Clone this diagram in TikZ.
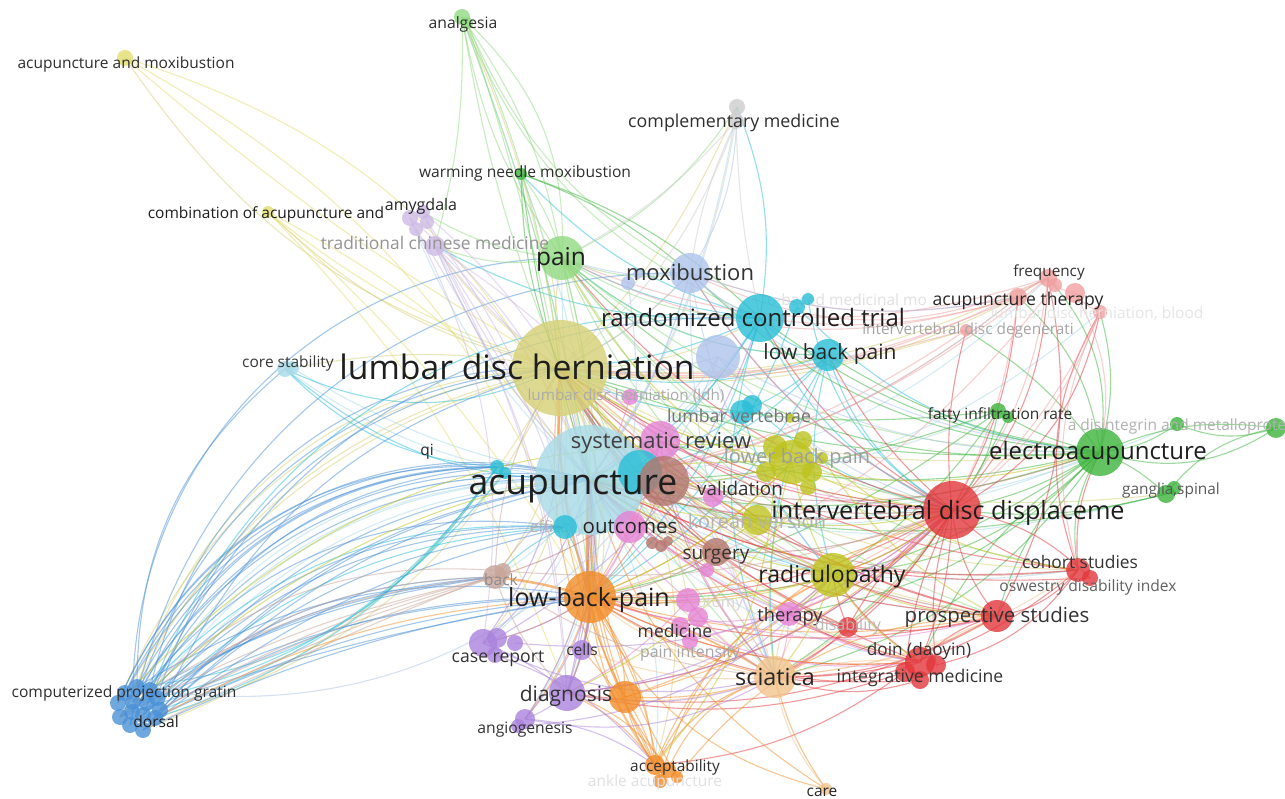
\documentclass[tikz,border=0pt]{standalone}
\usepackage{fontspec}
\setmainfont{Open Sans}
\pgfdeclarelayer{bg}
\pgfdeclarelayer{edges}
\pgfdeclarelayer{lowlab}
\pgfsetlayers{bg,edges,lowlab,main}
\definecolor{cKhaki}{RGB}{214,208,118}
\definecolor{cYellow}{RGB}{226,222,110}
\definecolor{cLCyan}{RGB}{168,218,232}
\definecolor{cCyan}{RGB}{40,190,215}
\definecolor{cBrown}{RGB}{180,118,108}
\definecolor{cLBrown}{RGB}{200,165,155}
\definecolor{cPink}{RGB}{228,130,212}
\definecolor{cOlive}{RGB}{190,195,30}
\definecolor{cRed}{RGB}{226,55,60}
\definecolor{cGreen}{RGB}{60,180,60}
\definecolor{cOrange}{RGB}{242,140,40}
\definecolor{cLOrange}{RGB}{240,195,140}
\definecolor{cPurple}{RGB}{170,130,220}
\definecolor{cLBlue}{RGB}{175,195,235}
\definecolor{cLGreen}{RGB}{145,218,130}
\definecolor{cGrey}{RGB}{205,205,205}
\definecolor{cLRed}{RGB}{240,160,160}
\definecolor{cLPurple}{RGB}{205,185,228}
\definecolor{cBlue}{RGB}{75,145,215}
\definecolor{tDark}{RGB}{30,30,30}
\tikzset{
  bub/.style={circle,inner sep=0pt,draw=none,fill opacity=0.8},
  lab/.style={inner sep=0pt,anchor=base},
  ed/.style={line width=1.1pt,draw opacity=0.5},
}
\newcommand\bub[5]{\node[bub,minimum size=#4*2pt,fill=#5] (#1) at (#2,#3) {};}
\newcommand\lab[6]{\node[lab,text=#5,font=\fontsize{#4}{#4}\selectfont] (#1) at ({#2},{#3+0.36*#4}) {#6};}
\newcommand\edges[2]{\foreach \pa/\pb/\pc in {#2} {\draw[ed,draw=#1] (\pa.center) to[bend left=\pc] (\pb.center);}}
\begin{document}
\begin{tikzpicture}[x=1pt,y=-1pt]
\useasboundingbox (0,0) rectangle (1285,799);
\begin{pgfonlayer}{bg}
\fill[white] (0,0) rectangle (1285,799);
\end{pgfonlayer}
% ---------------- bubbles ----------------
\bub{ldh}{560}{368}{48}{cKhaki}
\bub{lbl}{718}{357}{22}{cLBlue}
\bub{acu}{590}{480}{55}{cLCyan}
\bub{sr}{660}{441}{20}{cPink}
\bub{cyn2}{640}{472}{22}{cCyan}
\bub{brn}{664}{481}{25}{cBrown}
\bub{pinkldh}{630}{397}{8}{cPink}
\bub{cq}{497}{467}{7}{cCyan}
\bub{cq2}{505}{473}{6}{cCyan}
\bub{eff}{565}{527}{12}{cCyan}
\bub{out}{630}{527}{16}{cPink}
\bub{val}{713}{497}{10}{cPink}
\bub{olv2}{775}{447}{12}{cOlive}
\bub{olv1}{792}{462}{22}{cOlive}
\bub{olv3}{812}{472}{10}{cOlive}
\bub{olv4}{803}{440}{9}{cOlive}
\bub{olv5}{822}{458}{6}{cOlive}
\bub{olv6}{808}{487}{8}{cOlive}
\bub{olv7}{766}{472}{10}{cOlive}
\bub{kor}{757}{520}{15}{cOlive}
\bub{ivd}{952}{510}{29}{cRed}
\bub{ea}{1100}{452}{24}{cGreen}
\bub{rad}{833}{575}{22}{cOlive}
\bub{lbp}{590}{597}{26}{cOrange}
\bub{sci}{775}{677}{21}{cLOrange}
\bub{diag}{567}{693}{18}{cPurple}
\bub{ora}{625}{697}{16}{cOrange}
\bub{pro}{997}{616}{16}{cRed}
\bub{pain}{562}{258}{22}{cLGreen}
\bub{mox}{690}{273}{20}{cLBlue}
\bub{mox2}{628}{283}{7}{cLBlue}
\bub{mox3}{638}{274}{5}{cLBlue}
\bub{rct}{760}{318}{24}{cCyan}
\bub{rct2}{797}{307}{8}{cCyan}
\bub{rct3}{808}{299}{6}{cCyan}
\bub{lowbp}{828}{355}{16}{cCyan}
\bub{comp}{737}{107}{8}{cGrey}
\bub{comp2}{736}{121}{8}{cGrey}
\bub{anal}{462}{17}{8}{cLGreen}
\bub{anal2}{467}{23}{6}{cLGreen}
\bub{am}{125}{58}{8}{cYellow}
\bub{wn}{521}{174}{6}{cGreen}
\bub{comb}{268}{212}{6}{cYellow}
\bub{amy1}{410}{218}{8}{cLPurple}
\bub{amy2}{423}{212}{7}{cLPurple}
\bub{amy3}{427}{222}{7}{cLPurple}
\bub{amy4}{416}{229}{7}{cLPurple}
\bub{tcm}{435}{246}{10}{cLPurple}
\bub{core}{285}{369}{8}{cLCyan}
\bub{core2}{292}{368}{7}{cLCyan}
\bub{lv}{742}{412}{12}{cCyan}
\bub{lv2}{752}{405}{10}{cCyan}
\bub{lvo}{790}{418}{5}{cOlive}
\bub{surg}{716}{552}{14}{cBrown}
\bub{sb1}{652}{543}{6}{cBrown}
\bub{sb2}{661}{546}{6}{cBrown}
\bub{sb3}{668}{541}{5}{cBrown}
\bub{pk7}{707}{570}{7}{cPink}
\bub{back}{495}{577}{12}{cLBrown}
\bub{back2}{503}{571}{8}{cLBrown}
\bub{cr}{483}{643}{14}{cPurple}
\bub{cr2}{497}{638}{10}{cPurple}
\bub{cr3}{515}{643}{8}{cPurple}
\bub{cr4}{495}{655}{8}{cPurple}
\bub{cells}{582}{650}{10}{cPurple}
\bub{ang}{525}{719}{10}{cPurple}
\bub{ang2}{518}{726}{7}{cPurple}
\bub{acc}{655}{765}{10}{cOrange}
\bub{acc2}{668}{770}{8}{cOrange}
\bub{acc3}{660}{781}{7}{cOrange}
\bub{acc4}{677}{777}{6}{cOrange}
\bub{care}{826}{789}{6}{cLOrange}
\bub{med}{688}{600}{12}{cPink}
\bub{med2}{698}{617}{10}{cPink}
\bub{med3}{680}{626}{9}{cPink}
\bub{med4}{690}{641}{8}{cPink}
\bub{ther}{789}{614}{12}{cPink}
\bub{dis}{848}{627}{10}{cRed}
\bub{doin}{920}{662}{15}{cRed}
\bub{doin2}{905}{672}{10}{cRed}
\bub{doin3}{936}{665}{10}{cRed}
\bub{doin4}{920}{680}{9}{cRed}
\bub{coh}{1078}{570}{12}{cRed}
\bub{coh2}{1090}{578}{8}{cRed}
\bub{fat}{998}{411}{8}{cGreen}
\bub{fat2}{1008}{417}{6}{cGreen}
\bub{adis}{1177}{424}{7}{cGreen}
\bub{rim}{1276}{428}{10}{cGreen}
\bub{gang}{1166}{494}{9}{cGreen}
\bub{gang2}{1174}{488}{7}{cGreen}
\bub{freq}{1048}{278}{9}{cLRed}
\bub{freq2}{1055}{285}{7}{cLRed}
\bub{at}{1018}{297}{9}{cLRed}
\bub{at2}{1075}{293}{10}{cLRed}
\bub{blood}{1100}{312}{7}{cLRed}
\bub{idd}{966}{330}{6}{cLRed}
\foreach \n/\x/\y in {d1/137/687,d2/150/690,d3/125/693,d4/157/698,d5/118/703,d6/133/702,d7/147/703,d8/160/710,d9/120/717,d10/132/712,d11/143/715,d12/155/718,d13/130/725,d14/143/730}
  {\bub{\n}{\x}{\y}{8}{cBlue}}
% ---------------- edges ----------------
\begin{pgfonlayer}{edges}
\edges{cKhaki}{ldh/am/20,ldh/comb/15,ldh/core/-10,d1/ldh/35,d5/ldh/30,d9/ldh/26,d3/ldh/22,ldh/pain/10,ldh/rad/-20,ldh/ivd/-15,ldh/sci/-25,ldh/lbp/20,ldh/diag/25,ldh/comp/-10,ldh/anal/-8,ldh/ea/-15,ldh/mox/-10,ldh/rct/-15,ldh/cr/25,ldh/back/20,ldh/acc/30,ldh/pro/-20,ldh/lowbp/-12,ldh/tcm/10,ldh/doin/-25,ldh/ther/-20,ldh/coh/-20,ldh/wn/-10,ldh/freq/-15,ldh/at/-18,ldh/ang/28,ldh/cells/15,ldh/olv1/-12,ldh/kor/-12,ldh/sr/-10,ldh/med/18,ldh/surg/-12,ldh/dis/-20,ldh/out/15,ldh/d12/24,ldh/d14/20,ldh/gang/-18,ldh/idd/-12}
\edges{cYellow}{am/acu/25,am/ldh/-5,comb/acu/12,comb/lbp/8,comb/ldh/-10,comb/diag/12,am/lbp/20}
\edges{cLCyan}{acu/core/15,d2/acu/32,d7/acu/28,d11/acu/25,d13/acu/30,acu/comp/-12,acu/ea/-20,acu/ivd/-15,acu/sci/15,acu/rad/-10,acu/pro/-15,acu/coh/-18,acu/lbp/10,acu/diag/15,acu/cr/20,acu/ang/20,acu/acc/18,acu/pain/8,acu/mox/-10,acu/rct/-12,acu/tcm/10,acu/amy1/12,acu/anal/-5,acu/wn/-8,acu/doin/-20,acu/back/15,acu/ther/-10,acu/at/-15,acu/fat/-12,core2/acu/-10,acu/freq/-20,acu/blood/-22,acu/gang/-16,acu/adis/-18}
\edges{cCyan}{rct/comp/-15,rct/pain/10,rct/lowbp/-20,rct/acu/15,rct/ldh/10,rct/ivd/-20,rct/sci/-20,rct/lbp/15,lowbp/acu/20,lowbp/ldh/15,lowbp/rad/-15,lowbp/ivd/-20,lowbp/lv/10,lv/ldh/15,lv/acu/10,cq/d1/25,cq/d4/20,eff/d6/-25,core/cq/-20,rct/tcm/15,lowbp/lbp/15,rct/eff/10,eff/back/-10,lowbp/sci/-15,rct2/ea/-20,rct3/ivd/-25,cyn2/rad/-15,cyn2/ldh/10,core/ldh/-25,core/acu/-20,rct/wn/15,lowbp/pain/20,lv2/ivd/-15,lv/rad/-12,eff/lbp/8,eff/d11/-20,cq/d12/18,cq2/d8/15,rct2/lbp/15,d7/rct/38}
\edges{cBlue}{d1/acu/38,d2/ldh/40,d4/acu/22,d6/acu/35,d8/acu/18,d8/lbp/15,d12/lbp/10,d10/eff/25,d3/cq/30,d5/cq/35,d7/back/15,d9/acu/33,d11/rct/35,d14/lbp/8,d12/eff/18,d6/pain/45,d13/mox/40,d1/core/25,d4/ldh/33,d3/acu/40,d5/acu/42,d10/acu/30,d14/acu/20,d13/ldh/36,d9/lbp/5,d11/back/20,d2/cq/28,d8/ldh/25,d12/acu/15,d14/eff/12,d4/lbp/12,d6/eff/30,d10/cq/33,d2/back/10,d1/lbp/20,d7/eff/22,d9/back/14}
\edges{cLGreen}{pain/anal/12,pain/anal/-12,anal/pain/25,pain/wn/-10,pain/comp/-15,pain/ea/-20,pain/ivd/-20,pain/acu/8,pain/mox/-15,pain/rct/-15,pain/tcm/15,pain/lbp/10,pain/rad/-15,anal2/ldh/8,anal/acu/5,anal2/mox/-18,anal/rct/-22,anal/tcm/8,pain/amy2/12,pain/lowbp/-20,pain/sci/-18,anal/ldh/-6,anal2/lbp/6,pain/coh/-22,pain/pro/-20}
\edges{cGreen}{ea/fat/10,ea/adis/-15,ea/rim/-25,ea/rim/15,ea/gang/10,ea/ivd/10,ea/acu/15,ea/ldh/12,ea/rct/15,ea/rad/20,ea/pro/-15,ea/coh/-20,ea/at/-20,ea/blood/-15,ea/freq/-25,ea/lowbp/12,ea/lbp/18,ea/sci/20,fat/acu/10,fat/ldh/12,fat/ivd/15,wn/ldh/-10,wn/acu/-5,wn/mox/10,adis/rim/-20,gang/rim/20,ea/doin/-15,ea/idd/-10,fat2/sci/15,ea/sr/15,ea/mox/20,ea/pain/25,gang/ivd/10,gang/acu/15,fat/rad/10,fat/lbp/12,ea/ther/18,wn/rct/12}
\edges{cRed}{ivd/pro/-15,ivd/doin/10,ivd/coh/-20,ivd/freq/-20,ivd/at/-12,ivd/blood/-25,ivd/idd/10,ivd/sci/15,ivd/rad/10,ivd/dis/10,ivd/lbp/15,ivd/acu/12,ivd/ldh/15,ivd/rct/15,ivd/lowbp/10,ivd/ther/12,pro/doin/-15,pro/coh/-20,pro/sci/15,pro/rad/10,pro/acu/15,pro/ldh/15,pro/lbp/15,doin/sci/15,doin/lbp/15,doin/acu/15,doin/ldh/18,doin/rad/10,doin/ther/10,dis/sci/10,dis/acu/12,coh/acu/15,coh/ldh/15,coh/ea/15,coh/blood/25,pro/freq/-20,doin2/diag/15,doin3/coh/-20,dis/ldh/18,ivd/diag/20,pro/diag/18,coh/sci/20,doin2/ivd/10,doin3/ivd/12,doin4/sci/18,coh2/ivd/-18,pro/ther/15,dis/ivd/12,dis/rad/8,ivd/mox/15,ivd/pain/18,ivd/sr/12,coh2/acu/14,pro/sr/14,doin4/lbp/18,doin2/acc/15}
\edges{cLRed}{at/ldh/15,at/acu/15,at/mox/15,at/rct/12,freq/ldh/18,freq/acu/15,freq/pain/20,blood/coh/-20,blood/ivd/15,idd/ldh/10,idd/acu/12,at/ivd/10,freq/ivd/15,at2/blood/-15,at2/ea/20,freq/at/-10,at2/freq/20,blood/rad/20,freq/mox/25,at/pain/22,freq2/lbp/18}
\edges{cOrange}{lbp/acc/15,lbp/acc/-15,lbp/sci/-10,lbp/diag/10,lbp/ora/-10,lbp/cells/10,lbp/rad/-10,lbp/ivd/-12,lbp/care/-25,lbp/med/-10,lbp/cr/10,lbp/ang/10,ora/acc/10,ora/acu/10,ora/ldh/15,ora/sci/-10,acc/sci/20,acc/acu/15,acc/ldh/20,acc/rad/20,acc/diag/-15,acc/ivd/20,care/sci/10,care/acu/20,ora/lbp/-20,acc2/sci/25,acc3/rad/25,acc4/pro/25,lbp/doin/-15,lbp/pro/-12,acc/cells/-10,lbp/d12/-12,acc2/lbp/12,acc3/lbp/-12,acc4/acu/14,acc/ora/12,acc2/diag/-18,ora/rad/-12,ora/ivd/-14,lbp/olv1/-12,lbp/sr/-8}
\draw[ed,draw=cOrange,line width=3pt,draw opacity=0.7] (lbp.center) to[bend left=5] (acu.center);
\draw[ed,draw=cOrange,line width=2.2pt,draw opacity=0.6] (lbp.center) to[bend left=10] (ldh.center);
\draw[ed,draw=cOrange,line width=2.5pt,draw opacity=0.6] (lbp.center) to[bend left=-5] (back.center);
\draw[ed,draw=cOrange,line width=1.8pt,draw opacity=0.55] (lbp.center) to[bend left=8] (sci.center);
\edges{cLOrange}{sci/care/-15,sci/acu/-15,sci/ldh/-18,sci/ivd/-12,sci/rad/10,sci/pro/-10,sci/doin/10,sci/lbp/15,sci/acc/-20,sci/ther/10,sci/med/10,sci/cells/12,sci/coh/-14,sci/diag/14}
\edges{cPurple}{diag/cr/-10,diag/ang/10,diag/acu/-10,diag/ldh/-15,diag/lbp/-10,diag/sci/-15,cr/acu/-15,cr/ldh/-20,cr/lbp/-10,cells/acu/-10,cells/lbp/-10,ang/acu/-18,ang/lbp/-12,ang/acc/15,diag/rad/-18,diag/ivd/-20,cr/sci/-20,ang/sci/-20,cr2/rct/-20,cr3/ivd/-22,cr4/acc/15,ang2/rad/-22}
\edges{cLPurple}{tcm/acu/-10,tcm/acu/12,tcm/ldh/-8,tcm/lbp/10,amy1/acu/15,amy2/ldh/8,amy3/lbp/12,amy4/diag/15,tcm/diag/12,amy1/cr/18,amy2/acu/-8,tcm/sci/18}
\edges{cPink}{sr/acu/-12,sr/ldh/-12,sr/rad/-12,sr/ivd/-10,out/acu/10,out/lbp/10,med/acu/10,med/lbp/10,med/sci/-12,ther/sci/10,ther/acu/12,ther/ldh/15,ther/ivd/-10,ther/doin/-12,val/acu/12,val/ldh/12,med/diag/10,pinkldh/acu/10,sr/lbp/12,sr/sci/-15,med2/pro/-15,med3/doin/-15,ther/lbp/15,pk7/acu/10,med4/ivd/-12}
\edges{cBrown}{brn/acu/10,brn/ldh/12,brn/ivd/-10,brn/rad/-12,brn/lbp/12,brn/sci/-12,brn/back/12,surg/acu/12,surg/ldh/12,surg/lbp/12,surg/rad/-10,brn/ea/-15,brn/coh/-18,sb1/acu/10,surg/ivd/-12,brn/pro/-14}
\edges{cLBrown}{back/d2/-12,back/d4/-18,back/d8/-8,back/acu/10,back/ldh/15,back2/d6/-24,back/d12/-4,back/sci/-14,back/diag/-12,back2/ivd/-12,back/d9/-8,back/d13/-6,back2/d14/-2}
\edges{cLBlue}{mox/ldh/10,mox/acu/10,mox/pain/12,mox/rct/-12,mox/comp/-15,mox/ivd/-15,mox/at/-15,mox/ea/-18,lbl/acu/12,lbl/ldh/12,lbl/ivd/-15,lbl/ea/-15,mox2/lbp/15,mox/rad/-15,mox/sci/-12,lbl/d1/40}
\edges{cOlive}{olv1/acu/12,olv1/ldh/12,olv1/rad/-10,olv1/ivd/-12,olv1/sci/-12,olv1/lbp/12,rad/acu/12,rad/ldh/14,rad/sci/10,rad/ivd/-10,rad/lbp/12,rad/pro/-12,kor/acu/12,kor/ldh/12,kor/lbp/12,olv2/d5/-25,olv1/d9/-22,olv3/ea/-12,olv4/coh/-18,olv6/diag/15,kor/ivd/-10,rad/doin/-12,olv7/pain/15,rad/ther/8,olv2/acc/20,olv5/pro/-14}
\edges{cGrey}{comp2/acu/12,comp2/ldh/15,comp2/rct/-5,comp2/mox/-8,comp2/pain/10}
\end{pgfonlayer}
% ---------------- faint labels behind bubbles ----------------
\begin{pgfonlayer}{lowlab}
\lab{t-eff}{557}{527}{15.5}{black!30}{efficacy}
\lab{t-herb}{847}{300}{15.5}{black!12}{o-based medicinal mo}
\lab{t-otomy}{720}{602}{15.5}{black!16}{otomy}
\end{pgfonlayer}
% ---------------- labels ----------------
\lab{t-ldh}{517}{367}{33.7}{tDark}{lumbar disc herniation}
\lab{t-ldhl}{626}{395}{15.3}{black!33}{lumbar disc herniation (ldh)}
\lab{t-acu}{573}{482}{35.5}{tDark}{acupuncture}
\lab{t-rct}{753}{318}{24}{tDark}{randomized controlled trial}
\lab{t-ivd}{948}{510}{25.2}{tDark}{intervertebral disc displaceme}
\lab{t-ea}{1098}{451}{24}{tDark}{electroacupuncture}
\lab{t-rad}{832}{574}{23}{tDark}{radiculopathy}
\lab{t-lbp}{589}{597}{25}{tDark}{low-back-pain}
\lab{t-sr}{661}{441}{22}{black!75}{systematic review}
\lab{t-pain}{561}{257}{24.5}{tDark}{pain}
\lab{t-mox}{690}{273}{22}{black!80}{moxibustion}
\lab{t-lowbp}{830}{352}{21}{black!85}{low back pain}
\lab{t-pro}{997}{615}{20.5}{black!80}{prospective studies}
\lab{t-sci}{775}{677}{23.4}{black!85}{sciatica}
\lab{t-diag}{566}{694}{21}{black!80}{diagnosis}
\lab{t-out}{630}{526}{20.5}{black!85}{outcomes}
\lab{t-surg}{716}{553}{19}{black!80}{surgery}
\lab{t-val}{740}{489}{18.8}{black!80}{validation}
\lab{t-lower}{797}{456}{20}{black!38}{lower back pain}
\lab{t-kor}{757}{521}{20}{black!30}{korean version}
\lab{t-lv}{739}{416}{17.7}{black!55}{lumbar vertebrae}
\lab{t-cr}{498}{656}{17.6}{black!80}{case report}
\lab{t-med}{675}{631}{17.5}{black!80}{medicine}
\lab{t-ther}{790}{615}{18.3}{black!80}{therapy}
\lab{t-doin}{919}{649}{17.2}{black!80}{doin (daoyin)}
\lab{t-int}{920}{676}{17.6}{black!80}{integrative medicine}
\lab{t-coh}{1080}{562}{17.4}{black!80}{cohort studies}
\lab{t-osw}{1088}{586}{15.6}{black!62}{oswestry disability index}
\lab{t-fat}{1000}{414}{15.5}{black!82}{fatty infiltration rate}
\lab{t-gang}{1171}{489}{15.4}{black!65}{ganglia,spinal}
\lab{t-freq}{1049}{271}{15.3}{black!80}{frequency}
\lab{t-at}{1018}{299}{17.6}{black!85}{acupuncture therapy}
\lab{t-adis}{1177}{425}{15.5}{black!30}{a disintegrin and metalloprote}
\lab{t-blood}{1097}{313}{15.5}{black!10}{lumbar disc herniation, blood}
\lab{t-idd}{968}{329}{15.4}{black!35}{intervertebral disc degenerati}
\lab{t-comp}{734}{121}{17.8}{black!82}{complementary medicine}
\lab{t-anal}{463}{23}{15.7}{black!82}{analgesia}
\lab{t-am}{126}{63}{15.5}{black!82}{acupuncture and moxibustion}
\lab{t-wn}{525}{172}{15.6}{black!82}{warming needle moxibustion}
\lab{t-comb}{266}{213}{15.5}{black!88}{combination of acupuncture and}
\lab{t-amy}{421}{205}{16}{black!85}{amygdala}
\lab{t-tcm}{435}{243}{17.4}{black!42}{traditional chinese medicine}
\lab{t-core}{288}{362}{15.5}{black!78}{core stability}
\lab{t-qi}{427}{450}{15.5}{black!85}{qi}
\lab{t-back}{501}{580}{15.5}{black!45}{back}
\lab{t-cells}{582}{650}{15.5}{black!80}{cells}
\lab{t-ang}{525}{728}{15.7}{black!80}{angiogenesis}
\lab{t-acc}{675}{766}{15.4}{black!82}{acceptability}
\lab{t-ankle}{655}{781}{15.5}{black!12}{ankle acupuncture}
\lab{t-care}{822}{791}{15.5}{black!85}{care}
\lab{t-pint}{690}{652}{15.9}{black!35}{pain intensity}
\lab{t-dis}{848}{625}{16}{black!28}{disability}
\lab{t-cpg}{124}{692}{15.6}{black!82}{computerized projection gratin}
\lab{t-dors}{156}{722}{15.6}{black!88}{dorsal}
\end{tikzpicture}
\end{document}
